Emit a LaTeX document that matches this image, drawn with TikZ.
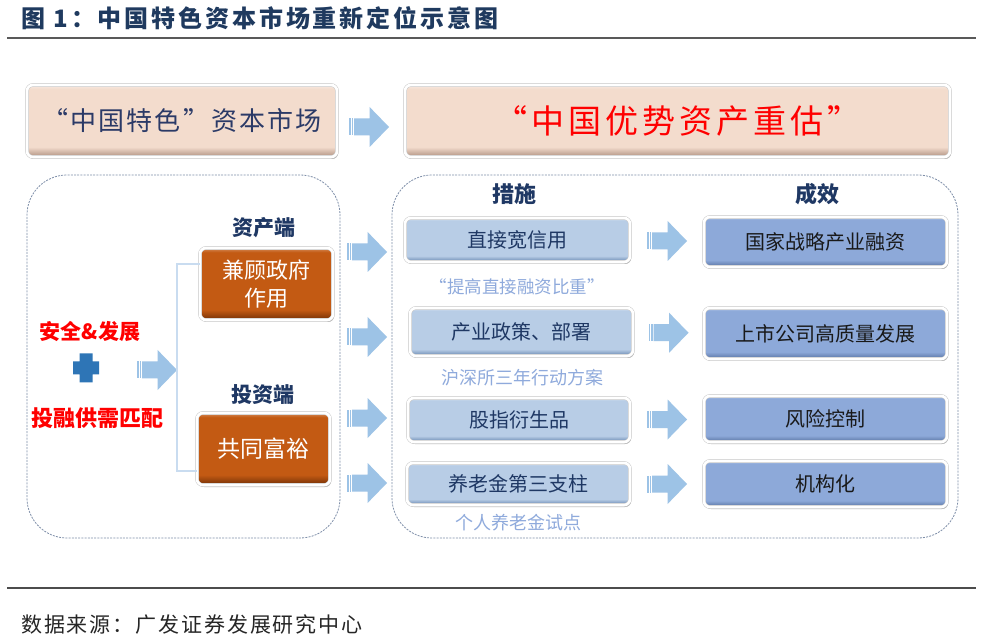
\documentclass[tikz,border=0pt]{standalone}
\usepackage{fontspec}
\setmainfont{Noto Sans CJK SC}
\usetikzlibrary{shadows,calc}
\definecolor{navy}{HTML}{1F3864}
\definecolor{titlecol}{HTML}{1F3A5F}
\definecolor{tltext}{HTML}{2B3A67}
\definecolor{peach}{HTML}{F3DCCD}
\definecolor{peachD}{HTML}{B89A8A}
\definecolor{lblue}{HTML}{B8CDE6}
\definecolor{lblueD}{HTML}{6F8DB5}
\definecolor{dblue}{HTML}{8DA9D9}
\definecolor{dblueD}{HTML}{5E79A8}
\definecolor{orng}{HTML}{C35A13}
\definecolor{orngD}{HTML}{7E3508}
\definecolor{arrowblue}{HTML}{9DC3E6}
\definecolor{notecol}{HTML}{8FAADC}
\definecolor{dashcol}{HTML}{7F8FA9}
\definecolor{crosscol}{HTML}{2E75B6}
\definecolor{bracketcol}{HTML}{C9DCF0}
\definecolor{redtext}{HTML}{FF0000}
\pgfdeclareverticalshading{peachsh}{100bp}{color(0bp)=(peachD); color(26bp)=(peachD); color(32bp)=(peach); color(72bp)=(peach); color(75bp)=(peach!60!white); color(100bp)=(peach!60!white)}
\pgfdeclareverticalshading{lbluesh}{100bp}{color(0bp)=(lblueD); color(26bp)=(lblueD); color(32bp)=(lblue); color(72bp)=(lblue); color(75bp)=(lblue!60!white); color(100bp)=(lblue!60!white)}
\pgfdeclareverticalshading{dbluesh}{100bp}{color(0bp)=(dblueD); color(26bp)=(dblueD); color(32bp)=(dblue); color(72bp)=(dblue); color(75bp)=(dblue!70!white); color(100bp)=(dblue!70!white)}
\pgfdeclareverticalshading{orngsh}{100bp}{color(0bp)=(orngD); color(26bp)=(orngD); color(32bp)=(orng); color(72bp)=(orng); color(75bp)=(orng!70!white); color(100bp)=(orng!70!white)}
\newcommand\fsz[2]{\fontsize{#1}{#2}\selectfont}
\newcommand\lsp[1]{\addfontfeatures{LetterSpace=#1}}
\tikzset{
  x=1pt, y=-1pt,
  box/.style={rounded corners=6pt, draw=black!22, double=white, double distance=2.6pt,
    line width=0.5pt, inner sep=0pt, outer sep=0pt, align=center,
    drop shadow={shadow xshift=1.2pt, shadow yshift=-2pt, opacity=0.3, fill=black}},
  peachbox/.style={box, shade, shading=peachsh},
  lbox/.style={box, shade, shading=lbluesh, minimum width=223pt, text=navy, font=\fsz{20}{24}},
  rbox/.style={box, shade, shading=dbluesh, minimum width=243pt, text=black!90, font=\fsz{20}{24}},
  obox/.style={box, shade, shading=orngsh, minimum width=133pt, minimum height=72pt, text=white, font=\fsz{22}{28}},
  dbox/.style={draw=dashcol, line width=0.8pt, dash pattern=on 2pt off 1.2pt, rounded corners=40pt, inner sep=0pt, outer sep=0pt},
  head/.style={text=navy, font=\bfseries\fsz{21}{24}},
  note/.style={text=notecol, font=\fsz{17}{20}},
  redlab/.style={text=redtext, font=\bfseries\fsz{21}{24}},
  sarrow/.pic={
    \fill[arrowblue] (-20,-8.5) rectangle (-18.5,8.5);
    \fill[arrowblue] (-17.4,-8.5) rectangle (-15.9,8.5);
    \fill[arrowblue] (-14.8,-8.5) -- (0.6,-8.5) -- (0.6,-20) -- (20,0) -- (0.6,20) -- (0.6,8.5) -- (-14.8,8.5) -- cycle;
  }
}
\begin{document}
\begin{tikzpicture}
\useasboundingbox (0,0) rectangle (983,644);
\fill[white] (0,0) rectangle (983,644);

% title
\node[anchor=west, text=titlecol, font=\bfseries\fsz{24}{28}\lsp{12}, inner sep=0pt] (title) at (21,18) {图 1：中国特色资本市场重新定位示意图};
\draw[line width=1.3pt, black!65] (7,38) -- (976,38);

% top row
\node[peachbox, minimum width=310pt, minimum height=72pt, text=tltext, font=\fsz{26}{28}\lsp{8}] (tl) at (182,121) {“中国特色”资本市场};
\node[peachbox, minimum width=545pt, minimum height=72pt, text=redtext, font=\fsz{33}{36}\lsp{12}] (tr) at (677.5,121) {“中国优势资产重估”};
\path ($(tl.east)!0.5!(tr.west)$) ++(-2,6) pic {sarrow};

% dashed containers
\node[dbox, minimum width=313pt, minimum height=363pt] (L) at (183.5,356.5) {};
\node[dbox, minimum width=566pt, minimum height=363pt] (R) at (675,356.5) {};

% left content
\node[redlab] (safe) at (90,332) {安全\&发展};
\fill[crosscol] (86,368) ++(-6.5,-14.5) -- ++(13,0) -- ++(0,8) -- ++(6.5,0) -- ++(0,13) -- ++(-6.5,0) -- ++(0,8) -- ++(-13,0) -- ++(0,-8) -- ++(-6.5,0) -- ++(0,-13) -- ++(6.5,0) -- cycle;
\node[redlab, font=\bfseries\fsz{22}{24}] (match) at (97,418) {投融供需匹配};
\path (157,370) pic {sarrow};

\node[head] (zcd) at (264,228) {资产端};
\node[obox] (b1) at (266.5,284) {兼顾政府\\作用};
\node[head] (tzd) at (263,395) {投资端};
\node[obox, font=\fsz{23}{28}] (b2) at (263.5,449) {共同富裕};
\draw[bracketcol, line width=2.5pt] ([yshift=20pt]b1.west) -- ++(-23,0) |- ([yshift=-22pt]b2.west);

% middle arrows
\path (367,252) pic {sarrow};
\path (367,337) pic {sarrow};
\path (367,418) pic {sarrow};
\path (367,483) pic {sarrow};

% right content
\node[head, font=\bfseries\fsz{22}{24}] (cs) at (514,194) {措施};
\node[head, font=\bfseries\fsz{22}{24}] (cx) at (817,194) {成效};

\node[lbox, minimum width=225pt, minimum height=44pt] (m1) at (517.5,240) {直接宽信用};
\node[lbox, minimum height=48pt] (m2) at (521.5,332) {产业政策、部署};
\node[lbox, minimum width=222pt, minimum height=44pt] (m3) at (519,420) {股指衍生品};
\node[lbox, minimum height=42pt] (m4) at (518.5,484) {养老金第三支柱};

\node[note, font=\fsz{17.5}{20}] (n1) at (517,287) {“提高直接融资比重”};
\node[note, font=\fsz{18}{20}] (n2) at (522,378) {沪深所三年行动方案};
\node[note, font=\fsz{18}{20}] (n3) at (518,523) {个人养老金试点};

\node[rbox, minimum height=50pt] (r1) at (825.5,242) {国家战略产业融资};
\node[rbox, minimum height=51pt] (r2) at (825.5,333.5) {上市公司高质量发展};
\node[rbox, minimum height=46pt] (r3) at (825.5,419) {风险控制};
\node[rbox, minimum height=46pt] (r4) at (825.5,484) {机构化};

\path ($(m1.east)!0.5!(r1.west)$) pic {sarrow};
\path ($(m2.east)!0.5!(r2.west)$) pic {sarrow};
\path ($(m3.east)!0.5!(r3.west)$) pic {sarrow};
\path ($(m4.east)!0.5!(r4.west)$) pic {sarrow};

% footer
\draw[line width=1.1pt, black!70] (7,588) -- (976,588);
\node[anchor=west, text=black!85, font=\fsz{21}{24}\lsp{9}, inner sep=0pt] (src) at (21,625) {数据来源：广发证券发展研究中心};
\end{tikzpicture}
\end{document}
